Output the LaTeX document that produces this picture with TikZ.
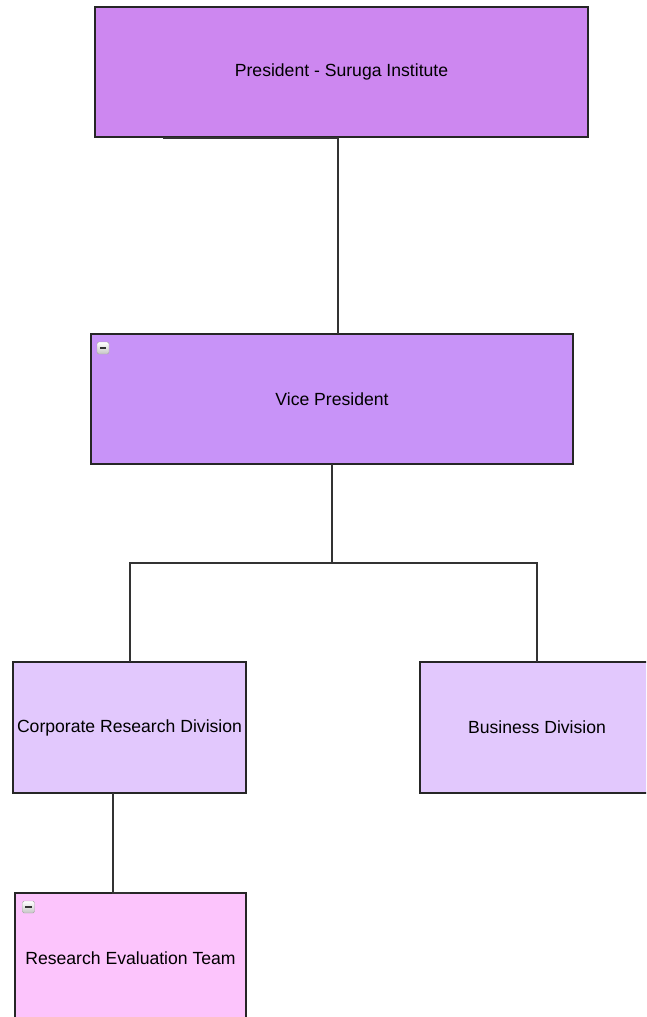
\documentclass[tikz,border=0pt]{standalone}
\usepackage{fontspec}
\setmainfont{Liberation Sans}
\definecolor{presfill}{HTML}{CD87F0}
\definecolor{vpfill}{HTML}{C893F8}
\definecolor{divfill}{HTML}{E2C8FD}
\definecolor{teamfill}{HTML}{FCC4FC}
\definecolor{linkgray}{HTML}{333333}
\tikzset{
  orgbox/.style={draw=black!85, line width=1.5pt, minimum height=130pt,
    inner sep=0pt, font=\fontsize{17.6}{21}\selectfont},
  link/.style={draw=linkgray, line width=1.8pt},
  collapse/.style={draw=gray!70, rounded corners=1.5pt, minimum size=12pt,
    inner sep=0pt, top color=white, bottom color=gray!45,
    path picture={\draw[line width=1.4pt, black!80]
      ([xshift=-3.2pt]path picture bounding box.center) --
      ([xshift=3.2pt]path picture bounding box.center);}}
}
\begin{document}
\begin{tikzpicture}[x=1pt, y=-1pt]
    \useasboundingbox (0,0) rectangle (646,1017);
    \clip (0,0) rectangle (646,1017);
    % Boxes
    \node[orgbox, fill=presfill, minimum width=493pt] (pres) at (341.5,72) {President - Suruga Institute};
    \node[orgbox, fill=vpfill, minimum width=482pt] (vp) at (332,399) {Vice President};
    \node[orgbox, fill=divfill, minimum width=233pt, minimum height=131pt] (corp) at (129.5,727.5) {Corporate Research Division};
    \node[orgbox, fill=divfill, minimum width=234pt, minimum height=131pt] (bus) at (537,727.5) {Business Division};
    \node[orgbox, fill=teamfill, minimum width=231pt] (team) at (130.5,958) {Research Evaluation Team};
    % Collapse buttons
    \node[collapse] (vpbtn) at (103,348) {};
    \node[collapse] (teambtn) at (28.5,907) {};
    % Connectors
    \coordinate (presbot) at (163,138);
    \coordinate (vptop) at (338,334);
    \coordinate (vpbot) at (332,464);
    \coordinate (split) at (332,563);
    \coordinate (corptop) at (130,662);
    \coordinate (bustop) at (537,662);
    \coordinate (corpbot) at (113,793);
    \coordinate (teamtop) at (130,893);
    \draw[link] (presbot) -| (vptop);
    \draw[link] (vpbot) -- (split);
    \draw[link] (corptop) |- (split) -| (bustop);
    \draw[link] (corpbot) |- (teamtop);
\end{tikzpicture}
\end{document}
